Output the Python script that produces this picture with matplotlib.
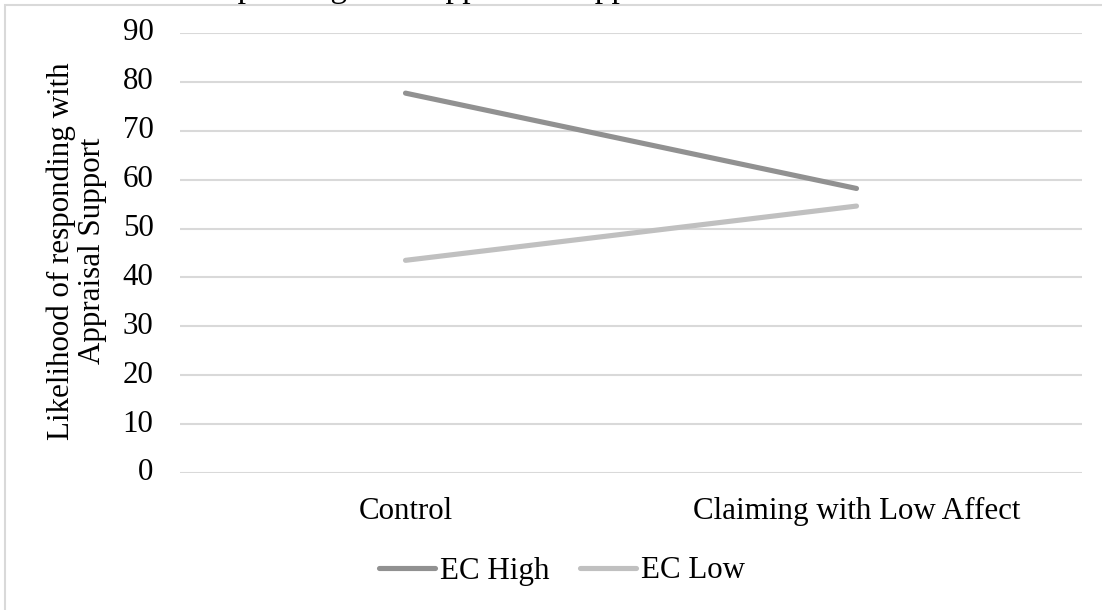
"""Interaction plot — EC high / low across conditions."""
import matplotlib
matplotlib.use("Agg")
import matplotlib.pyplot as plt
from matplotlib.patches import Rectangle

# data
conditions = ["Control", "Claiming with Low Affect"]
ec_high = [77.7, 58.2]
ec_low = [43.5, 54.6]
y_ticks = [0, 10, 20, 30, 40, 50, 60, 70, 80, 90]

W, H = 1102, 610
plt.rcParams["font.family"] = ["Liberation Serif", "DejaVu Serif"]
FS = 22.3
GRID = "#d9d9d9"

fig = plt.figure(figsize=(W / 100, H / 100), dpi=100)
fig.patch.set_facecolor("white")

# outer chart border (only left/top visible in crop)
fig.patches.append(Rectangle((4.5 / W, -0.1), 1.2, 1 - 5 / H + 0.1,
                             transform=fig.transFigure, fill=False,
                             edgecolor=GRID, lw=1.5))

# title sits above the crop, only descenders show
fig.text(8 / W, 1 + 3 / H, "Likelihood of responding with Appraisal Support",
         fontsize=24, va="baseline", ha="left")

ax = fig.add_axes([180 / W, 1 - 473 / H, (1082 - 180) / W, (473 - 33) / H])
x = list(range(len(conditions)))
ax.plot(x, ec_high, color="#919191", lw=3.7, solid_capstyle="round", label="EC High", zorder=3)
ax.plot(x, ec_low, color="#c0c0c0", lw=3.7, solid_capstyle="round", label="EC Low", zorder=3)

ax.set_xlim(-0.5, len(conditions) - 0.5)
ax.set_ylim(0, 90)
ax.set_yticks(y_ticks)
ax.set_xticks(x)
ax.set_xticklabels(conditions)
for s in ax.spines.values():
    s.set_visible(False)
ax.yaxis.grid(True, color=GRID, lw=1.5)
ax.set_axisbelow(True)
ax.tick_params(axis="y", length=0, pad=19, labelsize=FS)
ax.tick_params(axis="x", length=0, pad=17, labelsize=FS)
for lbl in ax.get_yticklabels():
    lbl.set_va("center")

fig.text(77 / W, 1 - 251 / H, "Likelihood of responding with\nAppraisal Support",
         rotation=90, ha="center", va="center", multialignment="center",
         fontsize=FS, linespacing=1.1)

fig.legend(loc="center", bbox_to_anchor=(562 / W, 1 - 571 / H), ncol=2,
           frameon=False, fontsize=FS, handlelength=1.8, handletextpad=0.15,
           columnspacing=1.0)

fig.savefig("out.png", dpi=100)
